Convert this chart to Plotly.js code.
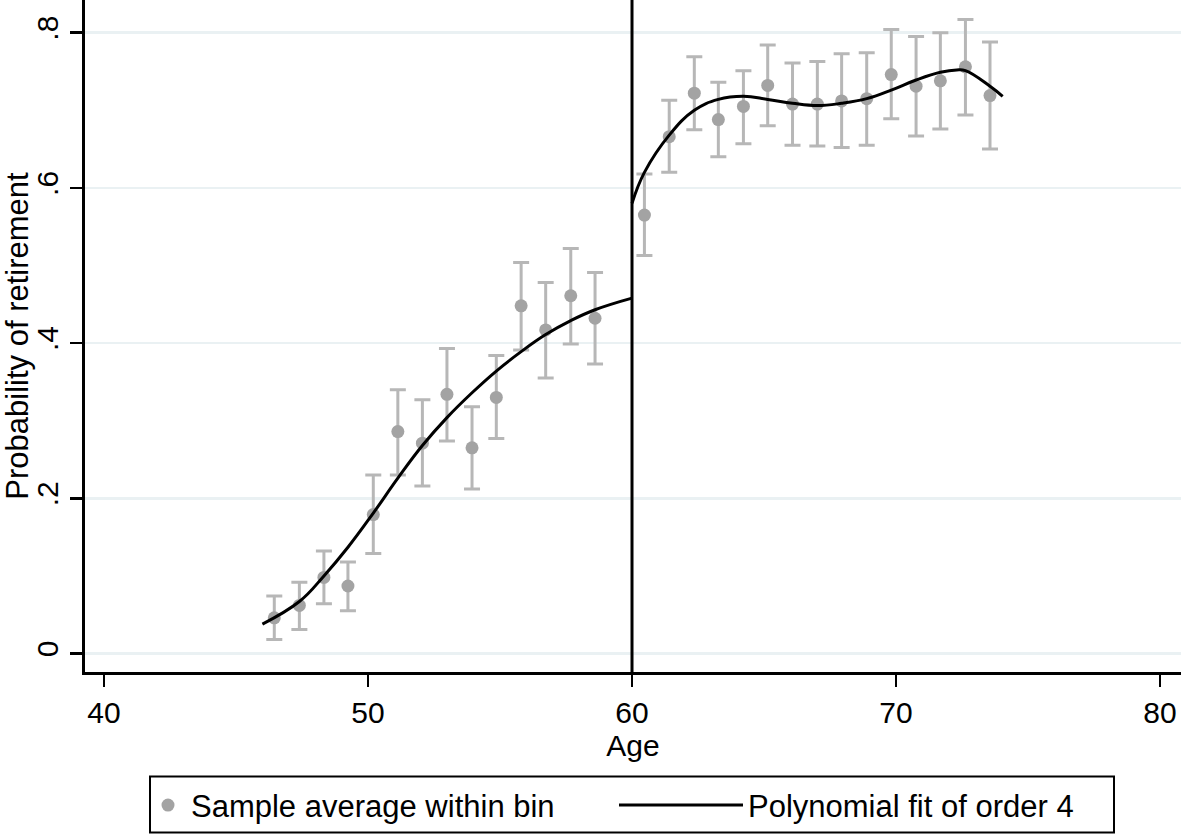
<!DOCTYPE html>
<html>
<head>
<meta charset="utf-8">
<script src="https://cdn.plot.ly/plotly-3.0.1.min.js"></script>
<style>
  html, body { margin: 0; padding: 0; background: #ffffff; }
  #chart { width: 1181px; height: 836px; }
</style>
</head>
<body>
<div id="chart"></div>
<script>
// ---- Data ----
var binAge = [46.45, 47.40, 48.33, 49.24, 50.20, 51.13, 52.06, 52.99, 53.94, 54.86, 55.80, 56.73, 57.68, 58.60,
              60.47, 61.41, 62.36, 63.27, 64.22, 65.14, 66.08, 67.02, 67.94, 68.89, 69.82, 70.76, 71.68, 72.63, 73.56];
var binMean = [0.046, 0.062, 0.098, 0.087, 0.179, 0.286, 0.271, 0.334, 0.265, 0.330, 0.448, 0.417, 0.461, 0.432,
               0.565, 0.666, 0.722, 0.688, 0.705, 0.732, 0.708, 0.708, 0.712, 0.715, 0.746, 0.731, 0.738, 0.756, 0.719];
var ciUpper = [0.074, 0.092, 0.132, 0.118, 0.230, 0.340, 0.327, 0.393, 0.318, 0.384, 0.504, 0.478, 0.522, 0.491,
               0.618, 0.713, 0.769, 0.736, 0.751, 0.784, 0.761, 0.763, 0.773, 0.774, 0.804, 0.795, 0.800, 0.817, 0.788];
var ciLower = [0.018, 0.031, 0.064, 0.055, 0.129, 0.230, 0.216, 0.274, 0.212, 0.277, 0.391, 0.355, 0.399, 0.373,
               0.513, 0.620, 0.675, 0.640, 0.657, 0.680, 0.655, 0.654, 0.652, 0.655, 0.689, 0.667, 0.676, 0.694, 0.650];

var fitAgeLeft = [46.0, 47.4, 48.33, 49.24, 50.2, 51.13, 52.06, 52.99, 53.94, 54.86, 55.8, 56.73, 57.68, 58.6, 60.0];
var fitLeft    = [0.038, 0.067, 0.100, 0.137, 0.181, 0.226, 0.268, 0.304, 0.336, 0.364, 0.389, 0.411, 0.429, 0.443, 0.458];

var fitAgeRight = [60.0, 60.47, 61.41, 62.36, 63.27, 64.22, 65.14, 66.08, 67.02, 67.94, 68.89, 69.82, 70.76, 71.68, 72.3, 72.63, 73.56, 74.04];
var fitRight    = [0.580, 0.620, 0.668, 0.700, 0.714, 0.718, 0.714, 0.709, 0.706, 0.709, 0.715, 0.726, 0.739, 0.749, 0.752, 0.751, 0.731, 0.718];

var xTicks = [40, 50, 60, 70, 80];
var yTicks = [0, 0.2, 0.4, 0.6, 0.8];
var yTickText = ['0', '.2', '.4', '.6', '.8'];
var cutoffAge = 60;

var seriesNames = ['Sample average within bin', 'Polynomial fit of order 4'];
var axisTitles = {x: 'Age', y: 'Probability of retirement'};

// ---- Build traces ----
var errPlus = binMean.map(function (m, i) { return ciUpper[i] - m; });
var errMinus = binMean.map(function (m, i) { return m - ciLower[i]; });

var FONT = '"Liberation Sans", Arial, Helvetica, sans-serif';

var traces = [
  {
    type: 'scatter', mode: 'markers', name: seriesNames[0],
    x: binAge, y: binMean,
    marker: {color: '#a3a3a3', size: 13},
    error_y: {type: 'data', symmetric: false, array: errPlus, arrayminus: errMinus,
              color: '#b7b7b7', thickness: 3, width: 8},
    legend: 'legend', showlegend: true, hoverinfo: 'x+y'
  },
  {
    type: 'scatter', mode: 'lines', name: seriesNames[1],
    x: fitAgeLeft, y: fitLeft,
    line: {color: '#000000', width: 3, shape: 'spline', smoothing: 1.2},
    legend: 'legend2', legendgroup: 'fit', showlegend: true
  },
  {
    type: 'scatter', mode: 'lines', name: seriesNames[1],
    x: fitAgeRight, y: fitRight,
    line: {color: '#000000', width: 3, shape: 'spline', smoothing: 1.2},
    legend: 'legend2', legendgroup: 'fit', showlegend: false
  }
];

// ---- Layout geometry (pixels) ----
var W = 1181, H = 836;
var mL = 85, mR = 0, mT = 0, mB = 163.5;
var pw = W - mL - mR, ph = H - mT - mB;
function px2x(p) { return (p - mL) / pw; }
function py2y(p) { return (mT + ph - p) / ph; }

var layout = {
  width: W, height: H,
  margin: {l: mL, r: mR, t: mT, b: mB, pad: 0},
  paper_bgcolor: '#ffffff', plot_bgcolor: '#ffffff',
  font: {family: FONT, size: 30, color: '#000000'},
  xaxis: {
    range: [39.28, 80.795], tickvals: xTicks, ticks: 'outside', ticklen: 12, tickwidth: 2.5,
    tickcolor: '#000000', showline: true, linecolor: '#000000', linewidth: 3,
    showgrid: false, zeroline: false, automargin: false,
    tickfont: {family: FONT, size: 30, color: '#000000'},
    title: {text: axisTitles.x, font: {family: FONT, size: 30, color: '#000000'}, standoff: 2}
  },
  yaxis: {
    range: [-0.0238, 0.8421], tickvals: yTicks, ticktext: yTickText, tickangle: -90,
    ticks: 'outside', ticklen: 12, tickwidth: 2.5, tickcolor: '#000000',
    showline: true, linecolor: '#000000', linewidth: 3,
    showgrid: true, gridcolor: '#eaf1f3', gridwidth: 2.5, zeroline: false, automargin: false,
    tickfont: {family: FONT, size: 30, color: '#000000'},
    title: {text: axisTitles.y, font: {family: FONT, size: 31, color: '#000000'}, standoff: 8}
  },
  legend: {
    x: px2x(145), xanchor: 'left', y: py2y(806), yanchor: 'middle',
    orientation: 'h', borderwidth: 0, bgcolor: 'rgba(0,0,0,0)', itemwidth: 36,
    font: {family: FONT, size: 31, color: '#000000'}
  },
  legend2: {
    x: px2x(614), xanchor: 'left', y: py2y(806), yanchor: 'middle',
    orientation: 'h', borderwidth: 0, bgcolor: 'rgba(0,0,0,0)', itemwidth: 124,
    font: {family: FONT, size: 31, color: '#000000'}
  },
  shapes: [
    {type: 'line', xref: 'x', yref: 'paper', x0: cutoffAge, x1: cutoffAge, y0: 0, y1: 1,
     line: {color: '#000000', width: 3}, layer: 'above'},
    {type: 'rect', xref: 'paper', yref: 'paper',
     x0: px2x(150), x1: px2x(1114), y0: py2y(833), y1: py2y(777),
     line: {color: '#000000', width: 2}, fillcolor: 'rgba(0,0,0,0)', layer: 'below'}
  ],
  showlegend: true
};

Plotly.newPlot('chart', traces, layout, {displayModeBar: false, staticPlot: true});
</script>
</body>
</html>
